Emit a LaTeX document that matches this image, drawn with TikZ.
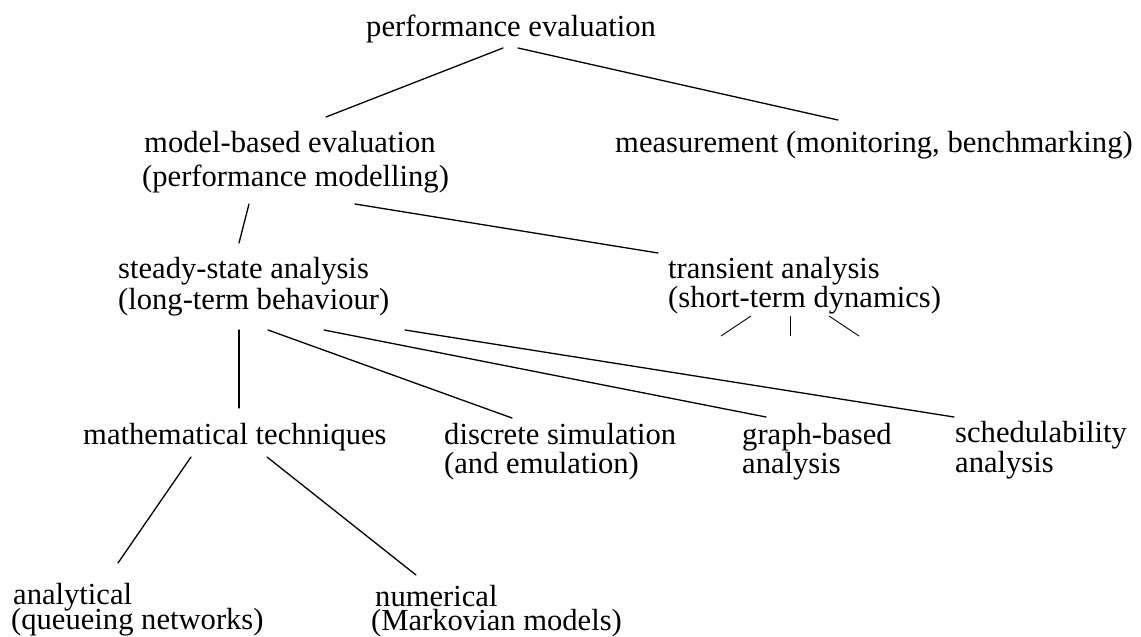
\documentclass[tikz,border=0pt]{standalone}
\usepackage{fontspec}
\setmainfont{Liberation Serif}
\begin{document}
\begin{tikzpicture}[x=1pt,y=-1pt,
  lbl/.style={anchor=base west, inner sep=0pt, font=\fontsize{30.6}{34}\selectfont},
  conn/.style={line width=1.3pt, line cap=round},
  stub/.style={line width=0.9pt}]
\useasboundingbox (0,0) rectangle (1141,637);
% texts
\node[lbl] (pe)   at (366,36)  {performance evaluation};
\node[lbl] (mbe)  at (144,152) {model-based evaluation};
\node[lbl] (mbe2) at (142,186) {(performance modelling)};
\node[lbl] (meas) at (615,152) {measurement (monitoring, benchmarking)};
\node[lbl] (ss)   at (118,278) {steady-state analysis};
\node[lbl] (ss2)  at (118,309) {(long-term behaviour)};
\node[lbl] (tr)   at (668,278) {transient analysis};
\node[lbl] (tr2)  at (668,307) {(short-term dynamics)};
\node[lbl] (mt)   at (83,444)  {mathematical techniques};
\node[lbl] (ds)   at (444,444) {discrete simulation};
\node[lbl] (ds2)  at (444,473) {(and emulation)};
\node[lbl] (gb)   at (742,444) {graph-based};
\node[lbl] (gb2)  at (742,473) {analysis};
\node[lbl] (sc)   at (955,442) {schedulability};
\node[lbl] (sc2)  at (955,472) {analysis};
\node[lbl] (an)   at (13,604)  {analytical};
\node[lbl] (an2)  at (11,629)  {(queueing networks)};
\node[lbl] (nu)   at (375,606) {numerical};
\node[lbl] (nu2)  at (371,630) {(Markovian models)};
% connector end points
\coordinate (pe-l) at (503,48);   \coordinate (mbe-t) at (326,117);
\coordinate (pe-r) at (518,48);   \coordinate (meas-t) at (838,120);
\coordinate (mbe-l) at (249,204); \coordinate (ss-t) at (239,243);
\coordinate (mbe-r) at (355,204); \coordinate (tr-t) at (658,253);
\coordinate (ss-a) at (239,330);  \coordinate (mt-t) at (239,408);
\coordinate (ss-b) at (268,330);  \coordinate (ds-t) at (512,418);
\coordinate (ss-c) at (324,330);  \coordinate (gb-t) at (766,417);
\coordinate (ss-d) at (405,330);  \coordinate (sc-t) at (954,417);
\coordinate (mt-l) at (191,457);  \coordinate (an-t) at (118,563);
\coordinate (mt-r) at (267,457);  \coordinate (nu-t) at (416,575);
\coordinate (tr-a) at (751,316);  \coordinate (tr-a2) at (721,336);
\coordinate (tr-b) at (790,316);  \coordinate (tr-b2) at (790,336);
\coordinate (tr-c) at (829,316);  \coordinate (tr-c2) at (859,336);
% connectors
\draw[conn] (pe-l) -- (mbe-t);
\draw[conn] (pe-r) -- (meas-t);
\draw[conn] (mbe-l) -- (ss-t);
\draw[conn] (mbe-r) -- (tr-t);
\draw[conn] (ss-a) -- (mt-t);
\draw[conn] (ss-b) -- (ds-t);
\draw[conn] (ss-c) -- (gb-t);
\draw[conn] (ss-d) -- (sc-t);
\draw[conn] (mt-l) -- (an-t);
\draw[conn] (mt-r) -- (nu-t);
\draw[stub] (tr-a) -- (tr-a2);
\draw[stub] (tr-b) -- (tr-b2);
\draw[stub] (tr-c) -- (tr-c2);
\end{tikzpicture}
\end{document}
